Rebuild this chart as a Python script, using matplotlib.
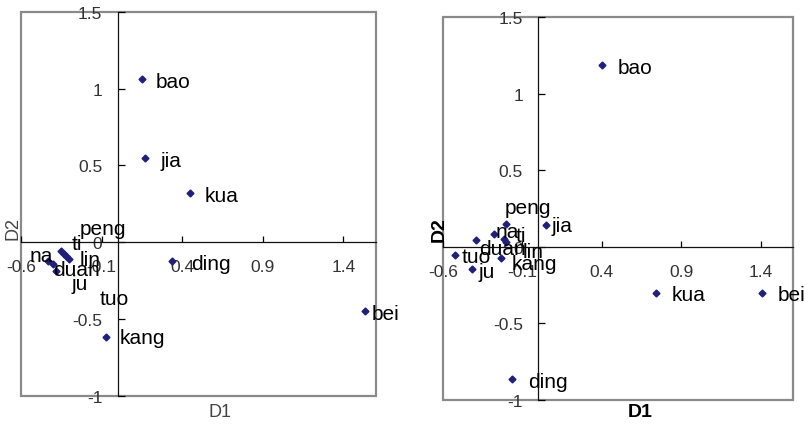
import matplotlib.pyplot as plt
from matplotlib.patches import Rectangle

plt.rcParams['font.family'] = ['Liberation Sans', 'DejaVu Sans']
plt.rcParams['axes.unicode_minus'] = False

# first solution
names1 = ['bao', 'jia', 'kua', 'ding', 'bei', 'kang',
          'peng', 'na', 'ti', 'lin', 'duan', 'ju', 'tuo']
d1_1 = [0.151, 0.170, 0.447, 0.340, 1.534, -0.075,
        -0.330, -0.430, -0.350, -0.300, -0.380, -0.400, -0.320]
d2_1 = [1.060, 0.545, 0.322, -0.120, -0.448, -0.615,
        -0.075, -0.121, -0.056, -0.108, -0.186, -0.141, -0.090]

# second solution
names2 = ['bao', 'jia', 'kua', 'bei', 'ding', 'peng',
          'na', 'ti', 'lin', 'duan', 'tuo', 'kang', 'ju']
d1_2 = [0.400, 0.052, 0.740, 1.404, -0.164, -0.202,
        -0.277, -0.213, -0.200, -0.389, -0.524, -0.234, -0.414]
d2_2 = [1.190, 0.141, -0.300, -0.300, -0.860, 0.152,
        0.087, 0.054, 0.035, 0.043, -0.055, -0.072, -0.142]

# where each label sits (left edge, baseline), data units
lab1_x = [0.238, 0.269, 0.540, 0.454, 1.577, 0.015,
          -0.238, -0.546, -0.287, -0.238, -0.400, -0.287, -0.113]
lab1_y = [1.008, 0.497, 0.270, -0.173, -0.498, -0.660,
          0.054, -0.121, -0.044, -0.152, -0.212, -0.303, -0.400]
lab2_x = [0.501, 0.084, 0.836, 1.503, -0.065, -0.213,
          -0.266, -0.143, -0.097, -0.372, -0.482, -0.170, -0.376]
lab2_y = [1.139, 0.102, -0.349, -0.349, -0.915, 0.224,
          0.065, 0.037, -0.065, -0.044, -0.098, -0.142, -0.194]

xticks = [-0.6, -0.1, 0.4, 0.9, 1.4]
yticks = [-1, -0.5, 0, 0.5, 1, 1.5]
xtick_labels = ['-0.6', '-0.1', '0.4', '0.9', '1.4']
ytick_labels = ['-1', '-0.5', '0', '0.5', '1', '1.5']

fig = plt.figure(figsize=(8.05, 4.27), dpi=100)
ax1 = fig.add_axes([0.026, 0.071, 0.4406, 0.899])
ax2 = fig.add_axes([0.550, 0.061, 0.4348, 0.896])


def draw_map(ax, names, xs, ys, lx, ly, bold_titles, xlab_pos, ylab_pos):
    ax.set_xlim(-0.6, 1.6)
    ax.set_ylim(-1, 1.5)
    # axes cross at the origin, grey frame around plot area
    for s in ['top', 'right']:
        ax.spines[s].set_visible(False)
    ax.spines['left'].set_position(('data', 0))
    ax.spines['bottom'].set_position(('data', 0))
    for s in ['left', 'bottom']:
        ax.spines[s].set_color('#111111')
        ax.spines[s].set_linewidth(0.9)
    ax.add_patch(Rectangle((0, 0), 1, 1, transform=ax.transAxes, fill=False,
                           ec='#8a8a8a', lw=1.6, clip_on=False, zorder=0))
    ax.set_xticks(xticks)
    ax.set_xticklabels(xtick_labels)
    ax.set_yticks(yticks)
    ax.set_yticklabels(ytick_labels)
    ax.tick_params(axis='y', direction='in', length=5, width=0.9, pad=11,
                   labelsize=12.5, labelcolor='#333333')
    ax.tick_params(axis='x', direction='in', length=4, width=0.9, pad=12,
                   labelsize=12.5, labelcolor='#333333')
    ax.plot(xs, ys, 'D', color='#20207a', ms=3.5, zorder=3, clip_on=False)
    for name, tx, ty in zip(names, lx, ly):
        ax.text(tx, ty, name, fontsize=15, ha='left', va='baseline',
                color='black', clip_on=False, zorder=4)
    weight = 'bold' if bold_titles else 'normal'
    size = 14 if bold_titles else 13
    col = 'black' if bold_titles else '#444444'
    ax.text(xlab_pos[0], xlab_pos[1], 'D1', transform=ax.transAxes,
            ha='center', va='center', fontsize=size, fontweight=weight, color=col)
    ax.text(ylab_pos[0], ylab_pos[1], 'D2', transform=ax.transAxes, rotation=90,
            ha='center', va='center', fontsize=size, fontweight=weight, color=col)


draw_map(ax1, names1, d1_1, d2_1, lab1_x, lab1_y, False, (0.561, -0.042), (-0.023, 0.437))
draw_map(ax2, names2, d1_2, d2_2, lab2_x, lab2_y, True, (0.564, -0.031), (-0.011, 0.449))

fig.savefig('out.png', dpi=100)
